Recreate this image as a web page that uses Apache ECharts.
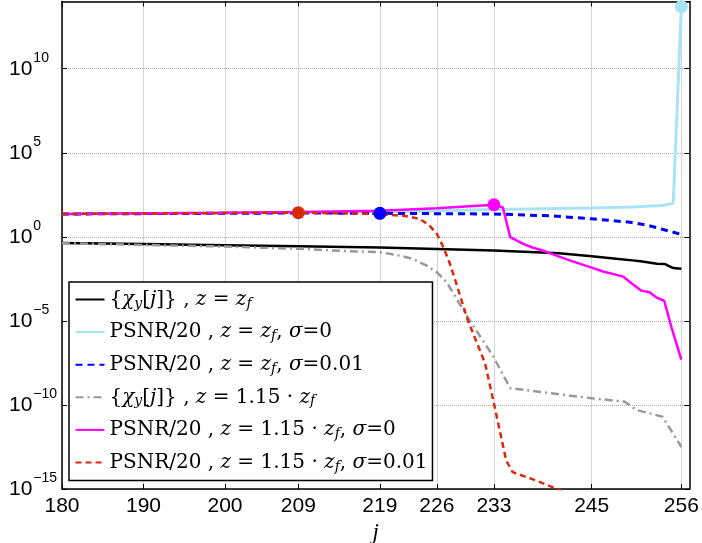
<!DOCTYPE html>
<html>
<head>
<meta charset="utf-8">
<script src="https://cdn.jsdelivr.net/npm/echarts@6/dist/echarts.min.js"></script>
<style>
  html, body { margin: 0; padding: 0; background: #fff; }
  #chart { width: 702px; height: 543px; }
</style>
</head>
<body>
<div id="chart"></div>
<script>
// x 轴刻度
const jTicks = [180, 190, 200, 209, 219, 226, 233, 245, 256];

// 各曲线数据（j 与 log10 值）
const blackJ = [180, 190, 200, 209, 219, 226, 233, 241, 245, 248, 250, 251, 252, 253, 254, 255, 256];
const blackLog = [-0.36, -0.43, -0.5, -0.56, -0.64, -0.72, -0.81, -0.97, -1.15, -1.3, -1.4, -1.45, -1.52, -1.6, -1.62, -1.86, -1.9];

const lightJ = [180, 200, 209, 219, 226, 233, 245, 250, 253.7, 255, 256];
const lightLog = [1.36, 1.42, 1.45, 1.5, 1.55, 1.63, 1.72, 1.78, 1.86, 2.0, 13.7];

const blueJ = [180, 209, 219, 226, 233, 240, 245, 249.7, 252, 254, 256];
const blueLog = [1.36, 1.42, 1.4, 1.38, 1.36, 1.25, 1.07, 0.87, 0.67, 0.41, 0.14];

const grayJ = [180, 190, 200, 209, 215, 219, 221, 223, 224.7, 226, 227.2, 229.8, 232.9, 235, 240, 245, 249, 250.5, 253.7, 256];
const grayLog = [-0.38, -0.48, -0.58, -0.71, -0.85, -0.91, -1.07, -1.3, -1.7, -2.1, -2.7, -4.8, -7.1, -9.0, -9.3, -9.6, -9.8, -10.3, -10.7, -12.5];

const magJ = [180, 200, 209, 219, 226, 233, 234.1, 235, 236.6, 237.8, 239, 240, 242.3, 244.8, 246.4, 248.8, 250, 251.1, 252.1, 252.9, 253.9, 254.8, 256];
const magLog = [1.36, 1.44, 1.48, 1.55, 1.7, 1.91, 1.75, -0.02, -0.42, -0.65, -0.81, -1.0, -1.4, -1.8, -2.06, -2.35, -2.8, -3.2, -3.3, -3.6, -3.8, -5.4, -7.3];

const redJ = [180, 209, 219, 220.2, 221.9, 223.9, 225.1, 226, 226.8, 227.6, 228.4, 229.8, 231.9, 233, 234.5, 235.3, 238.2, 241, 243];
const redLog = [1.36, 1.44, 1.36, 1.3, 1.26, 1.07, 0.67, 0.18, -0.62, -1.6, -2.8, -4.97, -7.5, -9.9, -13.3, -14.0, -14.5, -15.05, -15.5];

// 标记点
const dotJ = [209, 219, 233, 256];
const dotLog = [1.44, 1.4, 1.91, 13.7];

const names = ['chi_zf', 'psnr_zf_0', 'psnr_zf_001', 'chi_115', 'psnr_115_0', 'psnr_115_001'];
const labels = {
  chi_zf: '{{i|χ}{s|y}[{i|j}]} , {i|z} = {i|z}{s|f}',
  psnr_zf_0: 'PSNR/20 , {i|z} = {i|z}{s|f}, {i|σ}=0',
  psnr_zf_001: 'PSNR/20 , {i|z} = {i|z}{s|f}, {i|σ}=0.01',
  chi_115: '{{i|χ}{s|y}[{i|j}]} , {i|z} = 1.15 · {i|z}{s|f}',
  psnr_115_0: 'PSNR/20 , {i|z} = 1.15 · {i|z}{s|f}, {i|σ}=0',
  psnr_115_001: 'PSNR/20 , {i|z} = 1.15 · {i|z}{s|f}, {i|σ}=0.01'
};
const dotColors = ['#d92b0a', '#0000ff', '#ff00ff', '#a8e4f8'];

function pts(js, logs) {
  return js.map((j, i) => [j, Math.pow(10, logs[i])]);
}

function lineSeries(name, js, logs, color, width, type) {
  return {
    name: name,
    type: 'line',
    data: pts(js, logs),
    symbol: 'none',
    showSymbol: false,
    lineStyle: { color: color, width: width, type: type },
    itemStyle: { color: color },
    z: 3
  };
}

let myChart = echarts.init(document.getElementById('chart'));

const serif = 'DejaVu Serif';
const sans = 'Liberation Sans';

myChart.setOption({
  animation: false,
  backgroundColor: '#fff',
  grid: { left: 62, right: 12.5, top: 1.5, bottom: 54, outerBoundsMode: 'none', containLabel: false },
  legend: {
    data: names,
    orient: 'vertical',
    left: 69,
    top: 282,
    padding: [4.5, 5, 5, 5.5],
    itemGap: 6.6,
    itemWidth: 29,
    itemHeight: 6,
    backgroundColor: '#fff',
    borderColor: '#000',
    borderWidth: 1.5,
    borderRadius: 0,
    itemStyle: { opacity: 0 },
    formatter: function (name) { return labels[name]; },
    textStyle: {
      fontFamily: serif,
      fontSize: 20,
      color: '#000',
      lineHeight: 26,
      rich: {
        i: { fontFamily: serif, fontStyle: 'italic', fontSize: 20, lineHeight: 26, color: '#000' },
        s: { fontFamily: serif, fontStyle: 'italic', fontSize: 14, lineHeight: 16, padding: [9, 0, 0, 0], color: '#000' }
      }
    }
  },
  xAxis: [{
    type: 'value',
    min: 180,
    max: 257,
    name: 'j',
    nameLocation: 'middle',
    nameGap: 27,
    nameTextStyle: { fontFamily: 'Liberation Serif', fontStyle: 'italic', fontSize: 23, color: '#000' },
    axisLine: { lineStyle: { color: '#000', width: 1.5 } },
    axisTick: { inside: true, length: 5, customValues: jTicks, lineStyle: { color: '#000' } },
    axisLabel: { customValues: jTicks, margin: 7, fontFamily: sans, fontSize: 21, color: '#000' },
    splitLine: { show: true, lineStyle: { type: 'dotted', color: '#aaa', width: 1 } }
  }, {
    type: 'value',
    position: 'top',
    min: 180,
    max: 257,
    axisLine: { lineStyle: { color: '#000', width: 1.5 } },
    axisTick: { inside: true, length: 5, customValues: jTicks, lineStyle: { color: '#000' } },
    axisLabel: { show: false },
    splitLine: { show: false }
  }],
  yAxis: [{
    type: 'log',
    logBase: 10,
    min: 1e-15,
    max: 1e14,
    interval: 5,
    axisLine: { lineStyle: { color: '#000', width: 1.5 } },
    axisTick: { inside: true, length: 5, lineStyle: { color: '#000' } },
    axisLabel: {
      align: 'left',
      margin: 53,
      showMaxLabel: false,
      formatter: function (v) {
        const e = Math.round(Math.log10(v));
        if (e % 5 !== 0) return '';
        return '{b|10}{e|' + (e < 0 ? '\u2212' : '') + Math.abs(e) + '}';
      },
      rich: {
        b: { fontFamily: sans, fontSize: 21, color: '#000' },
        e: { fontFamily: sans, fontSize: 14, color: '#000', padding: [0, 0, 22, 1] }
      }
    },
    splitLine: { show: true, lineStyle: { type: 'dotted', color: '#aaa', width: 1 } }
  }, {
    type: 'log',
    logBase: 10,
    position: 'right',
    min: 1e-15,
    max: 1e14,
    interval: 5,
    axisLine: { lineStyle: { color: '#000', width: 1.5 } },
    axisTick: { inside: true, length: 5, lineStyle: { color: '#000' } },
    axisLabel: { show: false },
    splitLine: { show: false }
  }],
  series: [
    lineSeries('chi_zf', blackJ, blackLog, '#000000', 2.5, 'solid'),
    lineSeries('psnr_zf_0', lightJ, lightLog, '#a8e4f8', 3, 'solid'),
    lineSeries('psnr_zf_001', blueJ, blueLog, '#0000ff', 3, [7, 5]),
    lineSeries('chi_115', grayJ, grayLog, '#999999', 2.5, [8, 4, 2, 4]),
    lineSeries('psnr_115_0', magJ, magLog, '#ff00ff', 2.5, 'solid'),
    lineSeries('psnr_115_001', redJ, redLog, '#d92b0a', 2.5, [6, 4]),
    {
      name: 'dots',
      type: 'scatter',
      data: pts(dotJ, dotLog),
      symbolSize: 13,
      itemStyle: { color: function (p) { return dotColors[p.dataIndex]; }, opacity: 1 },
      z: 5
    }
  ]
});
</script>
</body>
</html>
